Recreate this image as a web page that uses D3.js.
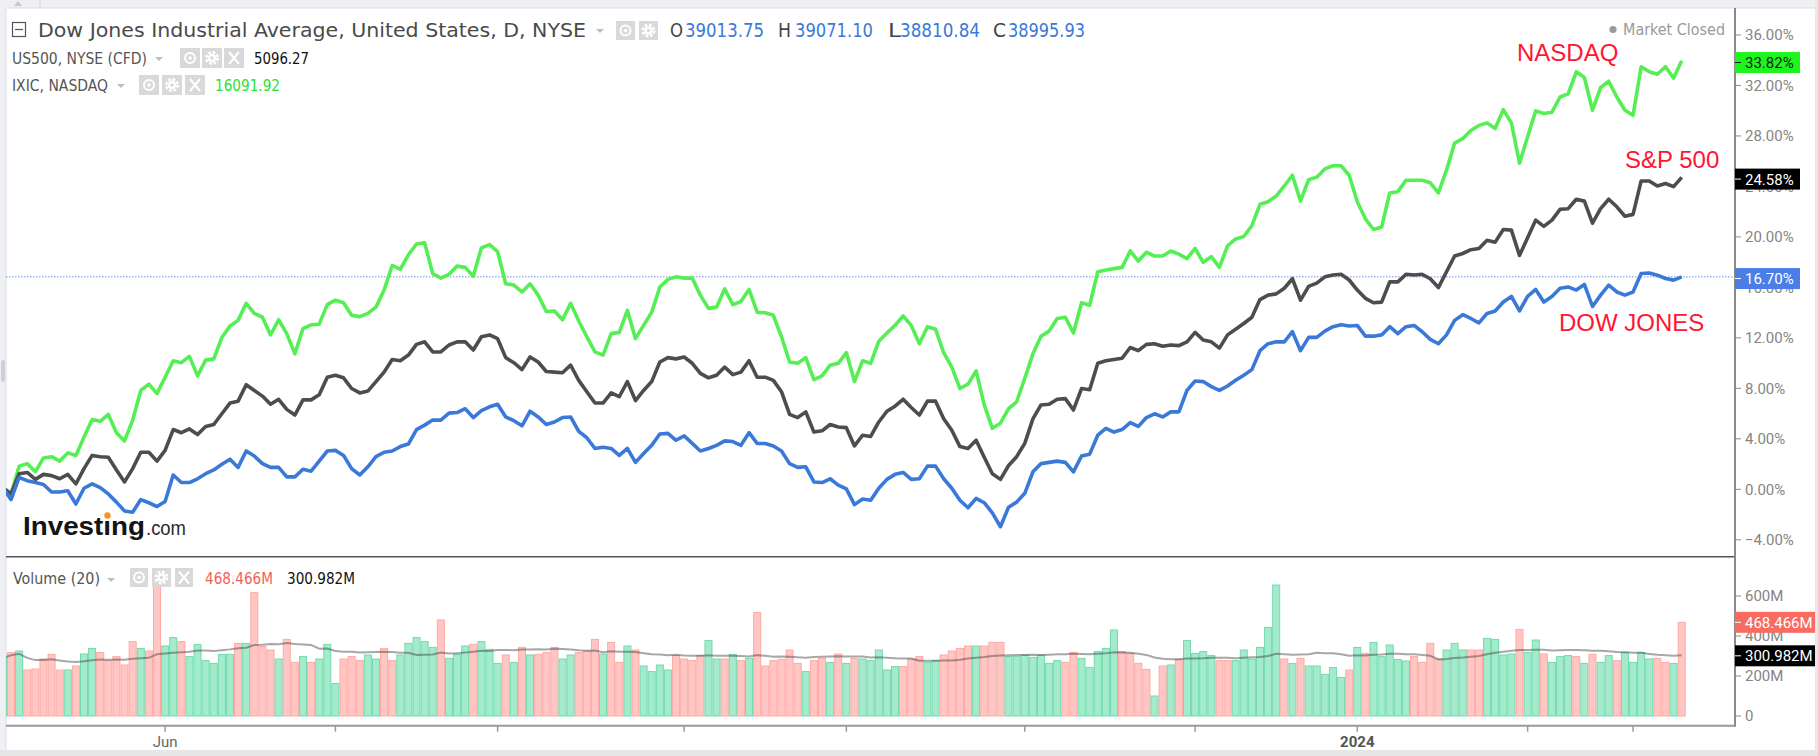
<!DOCTYPE html>
<html>
<head>
<meta charset="utf-8">
<script src="https://cdn.jsdelivr.net/npm/d3@7"></script>
<style>
  body { margin: 0; background: #fff; }
  svg { display: block; }
</style>
</head>
<body>
<div id="chart"></div>
<script>
// % change since the first session (May 3, 2023), one value per trading day
const ndxPct = [
  0, -0.5, 1.7, 1.9, 1.25, 2.35, 2.45, 2.1, 2.75, 2.55,
  4.0, 5.4, 5.25, 5.8, 4.35, 3.7, 5.35, 7.7, 8.2, 7.45,
  8.75, 10.05, 9.9, 10.4, 8.85, 10.1, 10.2, 11.9, 12.8, 13.25,
  14.6, 13.8, 13.5, 12.1, 13.3, 12.2, 10.6, 12.6, 12.9, 12.95,
  14.5, 14.85, 14.65, 13.65, 13.55, 13.8, 14.3, 15.65, 17.6, 17.3,
  18.45, 19.3, 19.4, 16.95, 16.6, 16.9, 17.55, 17.45, 16.75, 19.0,
  19.25, 18.7, 16.15, 16.05, 15.5, 16.15, 15.25, 13.95, 14.0, 13.3,
  14.6, 13.2, 11.95, 10.75, 10.5, 12.2, 12.3, 14.05, 11.8, 12.85,
  13.9, 15.9, 16.5, 16.7, 16.6, 16.6, 15.25, 14.2, 14.3, 15.75,
  14.5, 14.75, 15.7, 13.9, 13.85, 13.65, 11.95, 9.95, 9.85, 10.3,
  8.55, 8.85, 9.7, 9.85, 10.7, 8.4, 10.05, 9.85, 11.6, 12.25,
  12.85, 13.6, 12.85, 11.4, 12.75, 12.55, 10.7, 9.55, 7.85, 8.2,
  9.25, 6.55, 4.7, 5.1, 6.25, 6.8, 8.65, 10.6, 12.0, 12.4,
  13.4, 13.5, 12.25, 14.65, 14.45, 17.1, 17.25, 17.35, 17.45, 18.75,
  17.95, 18.65, 18.35, 18.35, 18.75, 18.5, 18.15, 18.95, 17.85, 18.3,
  17.45, 19.15, 19.7, 19.9, 20.75, 22.45, 22.65, 23.1, 23.9, 24.75,
  22.7, 24.4, 24.6, 25.25, 25.5, 25.5, 24.75, 22.65, 21.3, 20.45,
  20.65, 23.35, 23.45, 24.35, 24.35, 24.35, 24.15, 23.35, 25.15, 27.3,
  27.65, 28.3, 28.7, 28.9, 28.45, 29.95, 28.9, 25.7, 27.8, 29.85,
  29.65, 29.75, 30.95, 31.2, 32.95, 32.5, 29.9, 31.7, 32.2, 30.95,
  29.9, 29.5, 33.35, 32.95, 32.75, 33.35, 32.45, 33.82
];
const spxPct = [
  0, -0.5, 1.1, 1.2, 0.65, 1.05, 0.95, 0.7, 1.05, 0.3,
  1.5, 2.55, 2.45, 2.4, 1.4, 0.45, 1.5, 2.8, 2.8, 2.1,
  2.95, 4.6, 4.35, 4.65, 4.2, 4.85, 5.0, 5.85, 6.7, 6.85,
  8.15, 7.7, 7.25, 6.6, 7.0, 6.2, 5.75, 6.95, 6.95, 7.35,
  8.75, 8.9, 8.7, 7.85, 7.5, 7.65, 8.4, 9.15, 10.15, 10.05,
  10.5, 11.35, 11.55, 10.75, 10.75, 11.3, 11.55, 11.55, 10.9, 11.95,
  12.1, 11.8, 10.3, 9.9, 9.35, 10.35, 9.95, 9.2, 9.15, 9.1,
  9.7, 8.5, 7.6, 6.7, 6.7, 7.5, 7.2, 8.4, 6.9, 7.7,
  8.4, 9.95, 10.3, 10.2, 10.35, 9.85, 9.05, 8.7, 8.9, 9.55,
  8.95, 9.15, 10.05, 8.75, 8.75, 8.5, 7.6, 5.8, 5.55, 6.0,
  4.4, 4.5, 5.0, 4.8, 4.75, 3.3, 4.15, 4.05, 5.2, 6.05,
  6.45, 7.0, 6.35, 5.75, 6.85, 6.85, 5.45, 4.55, 3.25, 3.1,
  3.75, 2.4, 1.1, 0.65, 1.75, 2.45, 3.5, 5.45, 6.55, 6.6,
  7.0, 7.05, 6.15, 7.85, 7.75, 9.85, 10.05, 10.15, 10.25, 11.1,
  10.85, 11.35, 11.4, 11.2, 11.3, 11.25, 11.55, 12.3, 11.7, 11.55,
  11.05, 12.1, 12.55, 13.0, 13.5, 14.9, 15.25, 15.35, 15.8, 16.55,
  14.85, 15.95, 16.2, 16.7, 16.85, 16.9, 16.45, 15.65, 15.0, 14.65,
  14.7, 16.3, 16.3, 16.9, 16.85, 16.9, 16.55, 15.85, 17.1, 18.35,
  18.55, 18.85, 18.95, 19.6, 19.45, 20.45, 20.4, 18.4, 19.8, 21.2,
  20.7, 21.2, 22.05, 22.1, 22.85, 22.7, 20.95, 22.1, 22.85, 22.25,
  21.5, 21.65, 24.3, 24.3, 23.9, 24.1, 23.85, 24.58
];
const dowPct = [
  0, -0.95, 0.8, 0.55, 0.4, 0.25, -0.35, -0.35, -0.25, -1.3,
  -0.05, 0.3, 0.0, -0.5, -1.15, -1.85, -1.95, -0.95, -1.2, -1.5,
  -1.1, 1.0, 0.4, 0.4, 0.7, 1.1, 1.4, 1.85, 2.25, 1.6,
  2.9, 2.5, 1.9, 1.6, 1.6, 0.85, 0.85, 1.45, 1.3, 2.1,
  2.9, 2.95, 2.55, 1.5, 1.0, 1.65, 2.45, 2.8, 2.9, 3.25,
  3.45, 4.6, 4.95, 5.35, 5.35, 5.9, 5.95, 6.25, 5.55, 6.1,
  6.4, 6.6, 5.6, 5.3, 4.9, 6.05, 5.6, 5.0, 5.2, 5.55,
  5.6, 4.45, 3.95, 3.1, 3.2, 3.1, 2.55, 3.1, 2.0, 2.7,
  3.35, 4.25, 4.3, 3.75, 4.1, 3.5, 2.9, 3.1, 3.35, 3.7,
  3.65, 3.35, 4.35, 3.5, 3.5, 3.3, 2.9, 1.9, 1.6, 1.65,
  0.45, 0.4, 0.7, 0.2, -0.1, -1.35, -0.9, -1.0, -0.05, 0.65,
  1.05, 1.2, 0.65, 0.7, 1.7, 1.7, 0.7, -0.05, -1.0, -1.6,
  -0.85, -1.2, -2.0, -3.1, -1.55, -1.15, -0.45, 1.25, 1.9, 2.0,
  2.1, 2.0, 1.25, 2.5, 2.65, 4.15, 4.7, 4.4, 4.6, 5.15,
  4.85, 5.55, 5.85, 5.6, 6.0, 6.0, 7.7, 8.45, 8.4, 8.0,
  7.7, 8.05, 8.5, 8.9, 9.35, 10.85, 11.4, 11.55, 11.55, 12.35,
  10.85, 11.9, 11.9, 12.4, 12.75, 12.9, 12.8, 12.85, 12.0, 12.0,
  12.1, 12.75, 12.2, 12.75, 12.85, 12.35, 11.75, 11.4, 12.1, 13.25,
  13.7, 13.4, 13.05, 13.8, 14.0, 14.7, 15.15, 14.0, 15.15, 15.7,
  14.7, 15.15, 15.8, 15.9, 15.65, 16.1, 14.35, 15.25, 16.05, 15.5,
  15.25, 15.5, 16.96, 17.01, 16.83, 16.57, 16.44, 16.70
];
// daily volume in millions and candle direction (u = up, d = down)
const volume = [
  290, 317, 325, 230, 235, 285, 308, 230, 230, 250,
  310, 338, 317, 277, 297, 255, 372, 338, 325, 658,
  350, 392, 372, 297, 358, 277, 263, 308, 308, 363,
  363, 617, 347, 330, 285, 383, 268, 297, 268, 285,
  358, 162, 285, 297, 277, 305, 285, 338, 277, 305,
  363, 392, 372, 343, 480, 288, 308, 350, 358, 372,
  333, 263, 305, 268, 343, 305, 308, 317, 343, 285,
  305, 317, 325, 383, 310, 368, 268, 350, 330, 250,
  222, 255, 230, 302, 285, 277, 302, 377, 285, 285,
  308, 277, 288, 518, 250, 277, 283, 330, 263, 222,
  277, 288, 268, 310, 263, 288, 285, 277, 330, 230,
  247, 247, 285, 297, 268, 277, 305, 325, 338, 350,
  350, 350, 368, 368, 297, 297, 305, 293, 305, 263,
  277, 268, 318, 288, 243, 322, 338, 430, 322, 313,
  263, 233, 100, 250, 255, 283, 377, 313, 322, 302,
  277, 277, 277, 330, 285, 343, 443, 655, 285, 263,
  288, 250, 250, 208, 242, 193, 230, 343, 313, 368,
  297, 355, 283, 275, 297, 268, 363, 285, 330, 363,
  330, 330, 330, 388, 383, 305, 310, 433, 318, 380,
  310, 268, 297, 302, 297, 263, 308, 268, 302, 277,
  318, 268, 318, 285, 288, 268, 263, 468.466
];
const volDir = [
  "ududddddud", "uudddddudd", "uuduuuuuud", "uddduddudu", "uuddduuddu",
  "uuuuduuudu", "uudududddu", "uddduddudu", "uuudddduud", "ududdddddu",
  "ddududuuuu", "uddduudddd", "uddduuuuuu", "udduuuuudd", "ddududuuuu",
  "dduuuuuudu", "duuuuududu", "uuuudddduu", "udduuuuduu", "duuududuud",
  "uuuuddud"
].join("").split("");

// axes
const pctTicks = [-4, 0, 4, 8, 12, 16, 20, 24, 28, 32, 36];
const volTicks = [0, 200, 400, 600];
const xTickIdx = [20, 41, 61, 84, 104, 126, 147, 167, 188, 201];
const xTickText = { 20: "Jun", 167: "2024" };

// header values
const dowOHLC = [["O", "39013.75"], ["H", "39071.10"], ["L", "38810.84"], ["C", "38995.93"]];
const lastLabels = { ndx: 33.82, spx: 24.58, dow: 16.70 };
const lastVol = 468.466, lastVolMA = 300.982;

const W = 1818, H = 756;
const pL = 6, pR = 1735, pT = 8, sepY = 556.7, axisY = 725.7;
const green = "#55ef55", grey = "#4d4d4d", blue = "#3b79d9", red = "#ff1533";
const uiFont = "'DejaVu Sans Condensed','Noto Sans',sans-serif";
const axFont = "Roboto, 'Liberation Sans', sans-serif";

const x = d3.scaleLinear().domain([0, ndxPct.length - 1]).range([2.9, 1681.7]);
const y = d3.scaleLinear().domain([0, 36]).range([487.6, 487.6 - 36 * 12.62]);
const yv = d3.scaleLinear().domain([0, 600]).range([716, 596]);

const volMA = volume.map((v, i) => d3.mean(volume.slice(Math.max(0, i - 19), i + 1)));

const svg = d3.select("#chart").append("svg")
    .attr("width", W)
    .attr("height", H);

svg.append("rect").attr("width", W).attr("height", H).attr("fill", "#fff");

const defs = svg.append("defs");
defs.append("clipPath").attr("id", "mainClip")
  .append("rect").attr("x", pL).attr("y", pT).attr("width", pR - pL).attr("height", sepY - pT);
defs.append("clipPath").attr("id", "volClip")
  .append("rect").attr("x", pL).attr("y", sepY).attr("width", pR - pL).attr("height", axisY - sepY);

// ---------- window chrome ----------
svg.append("rect").attr("width", W).attr("height", pT).attr("fill", "#eef0f4");
svg.append("rect").attr("width", pL).attr("height", H).attr("fill", "#eef0f4");
svg.append("rect").attr("x", 1815).attr("width", 3).attr("height", H).attr("fill", "#e6e8eb");
svg.append("rect").attr("y", 750).attr("width", W).attr("height", 6).attr("fill", "#e6e6e6");
svg.append("line").attr("x1", pL).attr("x2", 1815).attr("y1", pT).attr("y2", pT)
  .attr("stroke", "#d9dde3");
svg.append("line").attr("x1", pL).attr("x2", pL).attr("y1", pT).attr("y2", 750)
  .attr("stroke", "#d9dde3");
svg.append("path").attr("d", "M14,6 L18,1 L22,6 Z").attr("fill", "#c5c9cf");
svg.append("line").attr("x1", 40).attr("x2", 40).attr("y1", 0).attr("y2", pT).attr("stroke", "#d4d8de");
svg.append("rect").attr("x", 1).attr("y", 360).attr("width", 4).attr("height", 22).attr("rx", 2)
  .attr("fill", "#cdd1d7");

// ---------- volume pane ----------
const vol = svg.append("g").attr("clip-path", "url(#volClip)");
vol.selectAll("rect.bar")
  .data(volume)
  .join("rect")
    .attr("class", "bar")
    .attr("x", (d, i) => x(i) - 3.5)
    .attr("width", 7)
    .attr("y", d => yv(d))
    .attr("height", d => yv(0) - yv(d))
    .attr("fill", (d, i) => volDir[i] === "u" ? "#a4ebcd" : "#ffc6c3")
    .attr("stroke", (d, i) => volDir[i] === "u" ? "#72dbab" : "#ffa9a4")
    .attr("stroke-width", 1);

vol.append("path")
  .datum(volMA)
  .attr("fill", "none")
  .attr("stroke", "rgba(60,60,60,0.45)")
  .attr("stroke-width", 2)
  .attr("d", d3.line().x((d, i) => x(i)).y(d => yv(d)));

// ---------- price pane ----------
const main = svg.append("g").attr("clip-path", "url(#mainClip)");
main.append("line")
  .attr("x1", pL).attr("x2", pR)
  .attr("y1", y(lastLabels.dow)).attr("y2", y(lastLabels.dow))
  .attr("stroke", "#6b8fe9").attr("stroke-width", 1).attr("stroke-dasharray", "1.5,1.5");

const line = d3.line().x((d, i) => x(i)).y(d => y(d));
[[ndxPct, green], [spxPct, grey], [dowPct, blue]].forEach(([s, c]) => {
  main.append("path")
    .datum(s)
    .attr("fill", "none")
    .attr("stroke", c)
    .attr("stroke-width", 3.6)
    .attr("stroke-linejoin", "round")
    .attr("d", line);
});

// pane separator, axes lines
svg.append("line").attr("x1", pL).attr("x2", pR).attr("y1", sepY).attr("y2", sepY)
  .attr("stroke", "#555").attr("stroke-width", 1.5);
svg.append("line").attr("x1", pL).attr("x2", pR).attr("y1", axisY).attr("y2", axisY)
  .attr("stroke", "#999").attr("stroke-width", 2);
svg.append("line").attr("x1", pR).attr("x2", pR).attr("y1", pT).attr("y2", axisY + 1)
  .attr("stroke", "#8a8a8a").attr("stroke-width", 2);

// x ticks
const xt = svg.append("g");
xt.selectAll("line")
  .data(xTickIdx)
  .join("line")
    .attr("x1", d => x(d)).attr("x2", d => x(d))
    .attr("y1", axisY).attr("y2", axisY + 6)
    .attr("stroke", "#999").attr("stroke-width", 1.5);
xt.selectAll("text")
  .data(xTickIdx.filter(d => xTickText[d]))
  .join("text")
    .attr("x", d => x(d)).attr("y", 747)
    .attr("text-anchor", "middle")
    .attr("font-family", axFont).attr("font-size", 15)
    .attr("font-weight", d => xTickText[d] === "2024" ? "bold" : "normal")
    .attr("fill", d => xTickText[d] === "2024" ? "#555" : "#666")
    .text(d => xTickText[d]);

// right axis: percent
const ya = svg.append("g");
ya.selectAll("line")
  .data(pctTicks)
  .join("line")
    .attr("x1", pR).attr("x2", pR + 6)
    .attr("y1", d => y(d) + 1.7).attr("y2", d => y(d) + 1.7)
    .attr("stroke", "#8a8a8a");
ya.selectAll("text")
  .data(pctTicks)
  .join("text")
    .attr("x", 1745).attr("y", d => y(d) + 1.7)
    .attr("dy", "0.36em")
    .attr("font-family", axFont).attr("font-size", 15)
    .attr("fill", "#858585")
    .text(d => d3.format(".2f")(d) + "%");

// right axis: volume
const va = svg.append("g");
va.selectAll("line")
  .data(volTicks)
  .join("line")
    .attr("x1", pR).attr("x2", pR + 6)
    .attr("y1", d => yv(d)).attr("y2", d => yv(d))
    .attr("stroke", "#8a8a8a");
va.selectAll("text")
  .data(volTicks)
  .join("text")
    .attr("x", 1745).attr("y", d => yv(d))
    .attr("dy", "0.36em")
    .attr("font-family", axFont).attr("font-size", 15)
    .attr("fill", "#858585")
    .text(d => d === 0 ? "0" : d + "M");

// last value badges
function badge(yPos, w, fill, color, txt) {
  const g = svg.append("g");
  g.append("rect").attr("x", pR).attr("y", yPos - 10.5).attr("width", w).attr("height", 21)
    .attr("fill", fill);
  g.append("line").attr("x1", pR).attr("x2", pR + 6).attr("y1", yPos).attr("y2", yPos)
    .attr("stroke", color);
  g.append("text").attr("x", 1745).attr("y", yPos).attr("dy", "0.36em")
    .attr("font-family", axFont).attr("font-size", 15).attr("fill", color)
    .text(txt);
}
badge(y(lastLabels.ndx) + 1.7, 65, "#1ef51e", "#1a1a1a", d3.format(".2f")(lastLabels.ndx) + "%");
badge(y(lastLabels.spx) + 1.7, 65, "#000", "#fff", d3.format(".2f")(lastLabels.spx) + "%");
badge(y(lastLabels.dow) + 1.7, 65, "#4a7ee6", "#fff", d3.format(".2f")(lastLabels.dow) + "%");
badge(yv(lastVol), 80, "#f86b61", "#fff", d3.format(".3f")(lastVol) + "M");
badge(yv(lastVolMA), 80, "#000", "#fff", d3.format(".3f")(lastVolMA) + "M");

// ---------- header / legends ----------
function icon(gx, gy, w, h, kind) {
  const g = svg.append("g").attr("transform", "translate(" + gx + "," + gy + ")");
  g.append("rect").attr("width", w).attr("height", h).attr("fill", "#d9d9d9");
  const cx = w / 2, cy = h / 2;
  if (kind === "eye") {
    g.append("circle").attr("cx", cx).attr("cy", cy).attr("r", 5)
      .attr("fill", "none").attr("stroke", "#fff").attr("stroke-width", 2);
    g.append("circle").attr("cx", cx).attr("cy", cy).attr("r", 1.8).attr("fill", "#fff");
  } else if (kind === "gear") {
    g.append("circle").attr("cx", cx).attr("cy", cy).attr("r", 5.5)
      .attr("fill", "none").attr("stroke", "#fff").attr("stroke-width", 3)
      .attr("stroke-dasharray", "2.6,1.7");
    g.append("circle").attr("cx", cx).attr("cy", cy).attr("r", 4).attr("fill", "#fff");
    g.append("circle").attr("cx", cx).attr("cy", cy).attr("r", 1.8).attr("fill", "#d9d9d9");
  } else {
    g.append("path").attr("d", `M${cx - 5},${cy - 6}L${cx + 5},${cy + 6}M${cx + 5},${cy - 6}L${cx - 5},${cy + 6}`)
      .attr("stroke", "#fff").attr("stroke-width", 2);
  }
}
function caret(cx, cy) {
  svg.append("path").attr("d", `M${cx - 4},${cy - 2}L${cx + 4},${cy - 2}L${cx},${cy + 2}Z`)
    .attr("fill", "#bdbdbd");
}
function label(tx, ty, len, size, fill, str, weight) {
  return svg.append("text").attr("x", tx).attr("y", ty)
    .attr("font-family", uiFont).attr("font-size", size)
    .attr("font-weight", weight || "normal")
    .attr("fill", fill)
    .attr("textLength", len).attr("lengthAdjust", "spacingAndGlyphs")
    .text(str);
}

// row 1 - Dow
svg.append("rect").attr("x", 12.5).attr("y", 22.5).attr("width", 13).attr("height", 14)
  .attr("fill", "none").attr("stroke", "#555").attr("stroke-width", 1.2);
svg.append("line").attr("x1", 15).attr("x2", 23).attr("y1", 29.5).attr("y2", 29.5)
  .attr("stroke", "#555").attr("stroke-width", 1.2);
label(38, 36.5, 548, 20, "#4a4a4a", "Dow Jones Industrial Average, United States, D, NYSE");
caret(600, 31);
icon(616, 21, 19, 19, "eye");
icon(639, 21, 19, 19, "gear");
const ohlcX = [[670, 685, 79], [778, 795, 78], [888, 900, 80], [993, 1008, 77]];
dowOHLC.forEach(([k, v], i) => {
  label(ohlcX[i][0], 37, 13, 19, "#444", k);
  label(ohlcX[i][1], 37, ohlcX[i][2], 19, "#3b79d9", v);
});

// row 2 - US500
label(12, 63.5, 135, 15.5, "#555", "US500, NYSE (CFD)");
caret(159, 59);
icon(180, 48, 20, 20, "eye");
icon(202, 48, 20, 20, "gear");
icon(224, 48, 20, 20, "x");
label(254, 64, 55, 16, "#111", "5096.27");

// row 3 - IXIC
label(12, 90.5, 96, 15.5, "#555", "IXIC, NASDAQ");
caret(121, 86);
icon(139, 75, 20, 20, "eye");
icon(162, 75, 20, 20, "gear");
icon(185, 75, 20, 20, "x");
label(215, 91, 65, 16, "#2fe02f", "16091.92");

// market status
svg.append("circle").attr("cx", 1613).attr("cy", 29.5).attr("r", 3.6).attr("fill", "#9a9a9a");
label(1623, 35, 102, 15, "#9a9a9a", "Market Closed");

// volume legend
label(13, 583.5, 87, 15.5, "#555", "Volume (20)");
caret(111, 580);
icon(130, 568, 18, 19, "eye");
icon(152, 568, 19, 19, "gear");
icon(175, 568, 18, 19, "x");
label(205, 584, 68, 16, "#f25f58", d3.format(".3f")(lastVol) + "M");
label(287, 584, 68, 16, "#111", d3.format(".3f")(lastVolMA) + "M");

// watermark
svg.append("text").attr("x", 23).attr("y", 535)
  .attr("font-family", "'Liberation Sans', Arial, sans-serif").attr("font-size", 26)
  .attr("font-weight", "bold").attr("fill", "#141414")
  .attr("textLength", 122).attr("lengthAdjust", "spacingAndGlyphs")
  .text("Invest\u0131ng");
svg.append("circle").attr("cx", 107.5).attr("cy", 515.5).attr("r", 3.2).attr("fill", "#f7941d");
svg.append("text").attr("x", 146).attr("y", 535)
  .attr("font-family", "'Liberation Sans', Arial, sans-serif").attr("font-size", 20)
  .attr("fill", "#2a2a2a")
  .attr("textLength", 40).attr("lengthAdjust", "spacingAndGlyphs")
  .text(".com");

// series annotations
[["NASDAQ", 1517, 60.5], ["S&P 500", 1625, 167.5], ["DOW JONES", 1559, 330.5]].forEach(([t, tx, ty]) => {
  svg.append("text").attr("x", tx).attr("y", ty)
    .attr("font-family", "'Liberation Sans', Arial, sans-serif").attr("font-size", 24)
    .attr("fill", red)
    .text(t);
});
</script>
</body>
</html>
